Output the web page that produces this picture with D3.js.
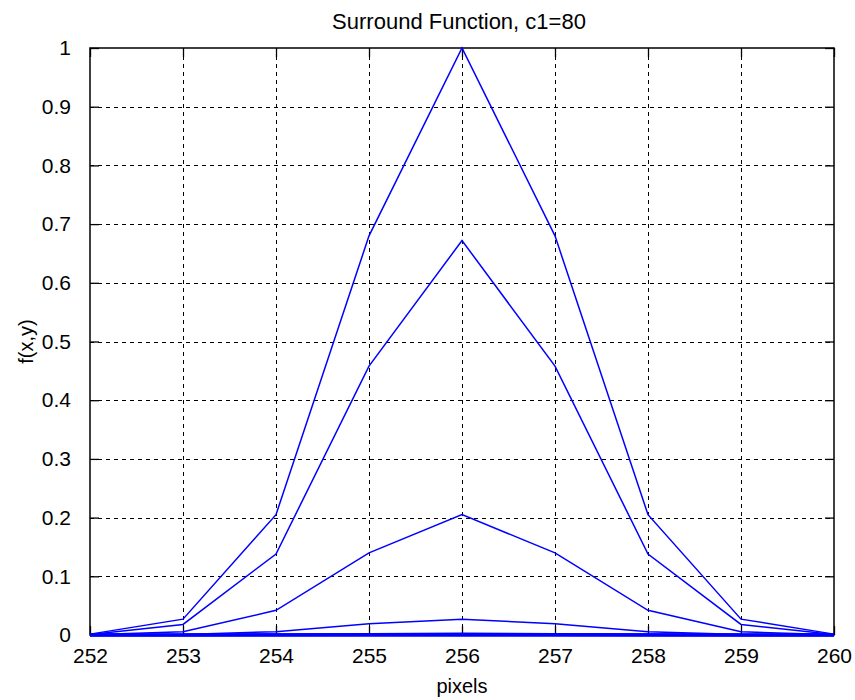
<!DOCTYPE html>
<html>
<head>
<meta charset="utf-8">
<script src="https://cdn.jsdelivr.net/npm/d3@7"></script>
<style>
  body { margin: 0; background: #fff; }
  svg { display: block; }
  text { font-family: "Liberation Sans", Arial, sans-serif; fill: #000; }
</style>
</head>
<body>
<svg id="chart" width="855" height="700"></svg>
<script>
// ---- data ----
const pixels = [252, 253, 254, 255, 256, 257, 258, 259, 260];
const row0 = [0.0015, 0.027, 0.205, 0.68, 1.0, 0.68, 0.205, 0.027, 0.0015];
const row1 = [0.001, 0.018, 0.138, 0.458, 0.672, 0.458, 0.138, 0.018, 0.001];
const row2 = [0.0003, 0.0055, 0.042, 0.14, 0.205, 0.14, 0.042, 0.0055, 0.0003];
const row3 = [0.00004, 0.0008, 0.0057, 0.019, 0.027, 0.019, 0.0057, 0.0008, 0.00004];
const row4 = [0, 0.00004, 0.0003, 0.001, 0.0015, 0.001, 0.0003, 0.00004, 0];
const row5 = [0, 0, 0, 0.00004, 0.00006, 0.00004, 0, 0, 0];
const row6 = [0, 0, 0, 0, 0, 0, 0, 0, 0];
const rows = [row0, row1, row2, row3, row4, row5, row6];
const xTicks = [252, 253, 254, 255, 256, 257, 258, 259, 260];
const yTicks = [0, 0.1, 0.2, 0.3, 0.4, 0.5, 0.6, 0.7, 0.8, 0.9, 1];
const yTickLabels = ["0", "0.1", "0.2", "0.3", "0.4", "0.5", "0.6", "0.7", "0.8", "0.9", "1"];
const titleText = "Surround Function, c1=80";
const xLabelText = "pixels";
const yLabelText = "f(x,y)";

// ---- layout ----
const L = 90, R = 834, T = 48, B = 635;
const svg = d3.select("#chart");
const x = d3.scaleLinear().domain([252, 260]).range([L, R]);
const y = d3.scaleLinear().domain([0, 1]).range([B, T]);

// grid
const grid = svg.append("g").attr("stroke", "#000").attr("stroke-width", 1)
  .attr("stroke-dasharray", "4,4").attr("shape-rendering", "crispEdges");
grid.selectAll("line.gx").data(xTicks.slice(1, -1)).join("line")
  .attr("x1", d => Math.round(x(d)) + 0.5).attr("x2", d => Math.round(x(d)) + 0.5)
  .attr("y1", T).attr("y2", B);
grid.selectAll("line.gy").data(yTicks.slice(1, -1)).join("line")
  .attr("x1", L).attr("x2", R)
  .attr("y1", d => Math.round(y(d)) + 0.5).attr("y2", d => Math.round(y(d)) + 0.5);

// axes (inward ticks on all four sides)
const fs = "21px";
const axB = svg.append("g").attr("transform", `translate(0,${B})`)
  .call(d3.axisBottom(x).tickValues(xTicks).tickSizeInner(-9).tickSizeOuter(0).tickPadding(13).tickFormat(d3.format("d")));
const axT = svg.append("g").attr("transform", `translate(0,${T})`)
  .call(d3.axisTop(x).tickValues(xTicks).tickSizeInner(-9).tickSizeOuter(0).tickFormat(""));
const axL = svg.append("g").attr("transform", `translate(${L},0)`)
  .call(d3.axisLeft(y).tickValues(yTicks).tickSizeInner(-9).tickSizeOuter(0).tickPadding(19)
    .tickFormat((d, i) => yTickLabels[i]));
const axR = svg.append("g").attr("transform", `translate(${R},0)`)
  .call(d3.axisRight(y).tickValues(yTicks).tickSizeInner(-9).tickSizeOuter(0).tickFormat(""));
[axB, axT, axL, axR].forEach(a => {
  a.selectAll("path.domain").remove();
  a.selectAll(".tick line").attr("stroke", "#000").attr("stroke-width", 1.3);
  a.selectAll("text").attr("font-size", fs).attr("font-family", "Liberation Sans, Arial, sans-serif").attr("fill", "#111");
});
axB.selectAll("text").attr("dy", "0.71em");

// box
svg.append("rect").attr("x", L).attr("y", T).attr("width", R - L).attr("height", B - T)
  .attr("fill", "none").attr("stroke", "#000").attr("stroke-width", 1.5);

// lines
const line = d3.line().x((d, i) => x(pixels[i])).y(d => y(d));
svg.append("g").selectAll("path").data(rows).join("path")
  .attr("d", line).attr("fill", "none").attr("stroke", "#0000ff").attr("stroke-width", 1.5);
// emphasise near-zero rows (they overlap into a thick band at the bottom)
svg.append("g").selectAll("path").data(rows.slice(4)).join("path")
  .attr("d", line).attr("fill", "none").attr("stroke", "#0000ff").attr("stroke-width", 3);

// labels
svg.append("text").attr("x", (L + R) / 2 - 3).attr("y", 29).attr("text-anchor", "middle")
  .attr("font-size", "22px").attr("fill", "#111").text(titleText);
svg.append("text").attr("x", (L + R) / 2).attr("y", 693).attr("text-anchor", "middle")
  .attr("font-size", "20px").attr("fill", "#111").text(xLabelText);
svg.append("text").attr("transform", `translate(33,${(T + B) / 2}) rotate(-90)`).attr("text-anchor", "middle")
  .attr("font-size", "20px").attr("fill", "#111").text(yLabelText);
</script>
</body>
</html>
